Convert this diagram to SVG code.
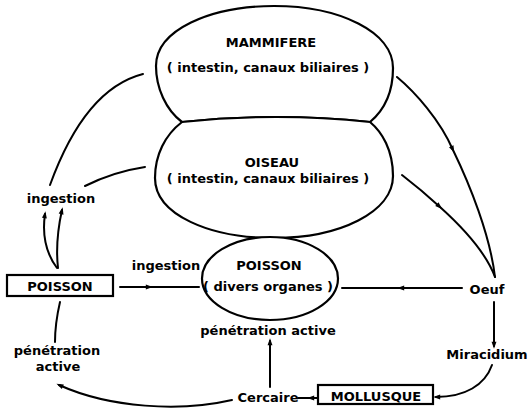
<svg xmlns="http://www.w3.org/2000/svg" width="528" height="417" viewBox="0 0 528 417">
<style>
text{font-family:"DejaVu Sans","Liberation Sans",sans-serif;font-weight:bold;font-size:13px;fill:#000;text-anchor:middle}
.shape{fill:#fff;stroke:#000;stroke-width:2.2}
.box{fill:#fff;stroke:#000;stroke-width:2.2}
.c{fill:none;stroke:#000;stroke-width:2;stroke-linecap:round}
</style>
<defs>
<marker id="ah" viewBox="0 0 10 10" refX="6" refY="5" markerWidth="8" markerHeight="7" orient="auto" markerUnits="userSpaceOnUse">
<path d="M0,1.5 L10,5 L0,8.5 z" fill="#000"/>
</marker>
</defs>
<rect width="528" height="417" fill="#fff"/>
<g id="connectors">
<path class="c" d="M50,185 C70,130 100,85 143,74"/>
<path class="c" d="M85,186 C105,176 125,170 145,167"/>
<path class="c" d="M57,268 C45,252 42,235 45,214" marker-end="url(#ah)"/>
<path class="c" d="M58,268 C56,250 58,228 62,210" marker-end="url(#ah)"/>
<path class="c" d="M60,302 C57,315 55,328 55,342"/>
<path class="c" d="M120,287 L150,287 L199,287" marker-mid="url(#ah)"/>
<path class="c" d="M462,288 L400,288 L342,288" marker-mid="url(#ah)"/>
<path class="c" d="M397,77 C415,92 440,120 453,150 C470,185 490,235 495,277" marker-mid="url(#ah)"/>
<path class="c" d="M402,175 C415,185 428,196 440,207 C460,225 485,250 495,277" marker-mid="url(#ah)"/>
<path class="c" d="M494,302 L494,346" marker-end="url(#ah)"/>
<path class="c" d="M492,365 C485,385 465,397 436,397" marker-end="url(#ah)"/>
<path class="c" d="M317,398 L310,398 L298,398" marker-mid="url(#ah)"/>
<path class="c" d="M270,387 L270,341" marker-end="url(#ah)"/>
<path class="c" d="M232,400 C180,412 110,408 59,385" marker-end="url(#ah)"/>
</g>
<g id="mammifere">
<path class="shape" d="M182,122 C166,110 156,88 156,66 C156,30 210,6 274,6 C340,6 393,32 393,68 C393,95 382,112 370,122 Q276,112 182,122 Z"/>
<text x="271" y="47">MAMMIFERE</text>
<text x="268" y="72">( intestin, canaux biliaires )</text>
</g>
<g id="oiseau">
<path class="shape" d="M182,122 C165,135 155,155 155,178 C155,215 210,238 274,238 C340,238 393,212 393,176 C393,150 382,132 370,122 Q276,112 182,122 Z"/>
<text x="272" y="167">OISEAU</text>
<text x="268" y="183">( intestin, canaux biliaires )</text>
</g>
<g id="poisson-organes">
<ellipse class="shape" cx="270" cy="278.5" rx="68" ry="41.5"/>
<text x="269" y="270">POISSON</text>
<text x="268" y="291">( divers organes )</text>
</g>
<g id="poisson-box">
<rect class="box" x="7" y="275" width="106" height="21"/>
<text x="60" y="291">POISSON</text>
</g>
<g id="mollusque">
<rect class="box" x="318" y="385" width="115" height="19"/>
<text x="376" y="401">MOLLUSQUE</text>
</g>
<g id="ingestion-1"><text x="61" y="203">ingestion</text></g>
<g id="ingestion-2"><text x="166" y="270">ingestion</text></g>
<g id="oeuf"><text x="487" y="294">Oeuf</text></g>
<g id="miracidium"><text x="487" y="359">Miracidium</text></g>
<g id="cercaire"><text x="268" y="402">Cercaire</text></g>
<g id="penetration-centre"><text x="268" y="335">pénétration active</text></g>
<g id="penetration-gauche"><text x="57" y="355">pénétration</text><text x="58" y="371">active</text></g>
</svg>
